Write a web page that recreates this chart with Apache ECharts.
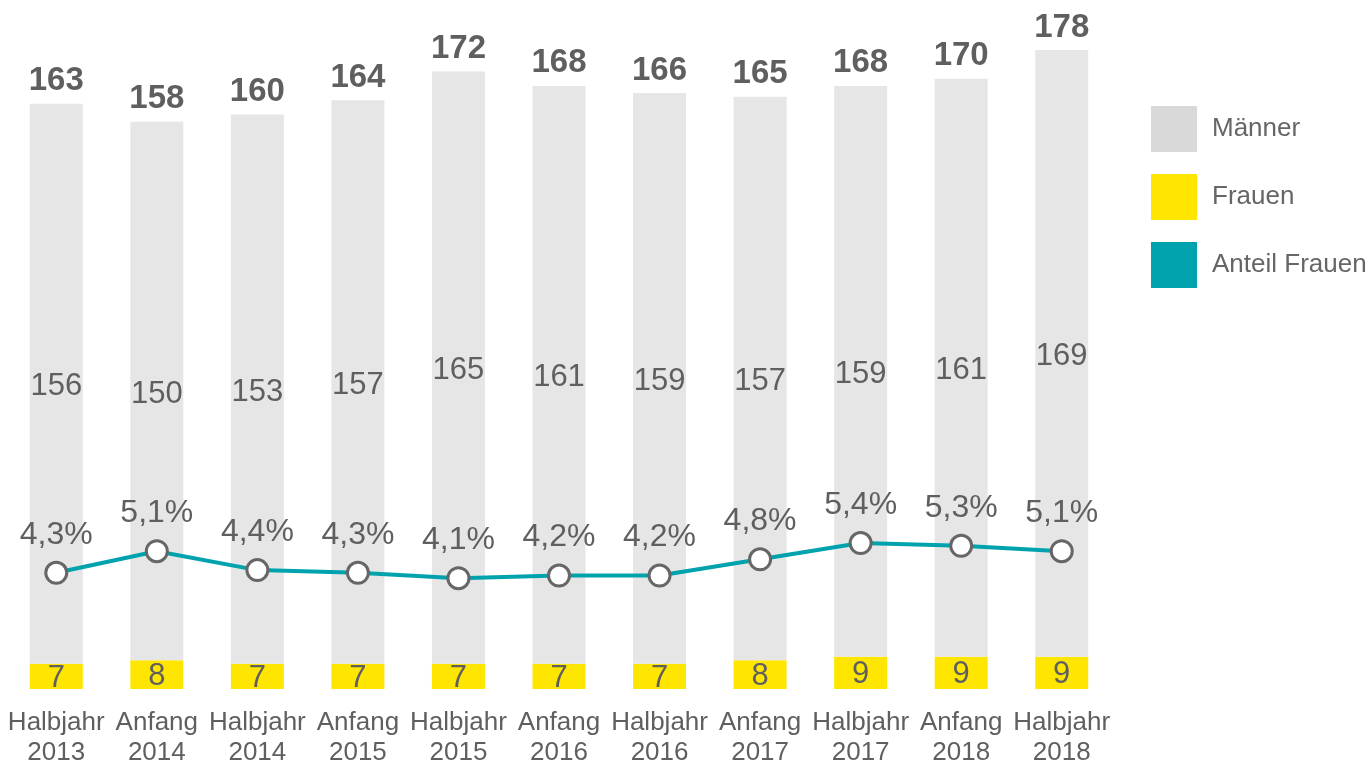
<!DOCTYPE html>
<html style="height: 100%">
<head>
    <meta charset="utf-8">
</head>
<body style="height: 100%; margin: 0; background: #fff">
<div id="container" style="width: 1368px; height: 763px"></div>
<script type="text/javascript" src="https://cdn.jsdelivr.net/npm/echarts@6/dist/echarts.min.js"></script>
<script type="text/javascript">
var categories = ['Halbjahr\n2013', 'Anfang\n2014', 'Halbjahr\n2014', 'Anfang\n2015', 'Halbjahr\n2015',
    'Anfang\n2016', 'Halbjahr\n2016', 'Anfang\n2017', 'Halbjahr\n2017', 'Anfang\n2018', 'Halbjahr\n2018'];
var maenner = [156, 150, 153, 157, 165, 161, 159, 157, 159, 161, 169];
var frauen = [7, 8, 7, 7, 7, 7, 7, 8, 9, 9, 9];
var gesamt = [163, 158, 160, 164, 172, 168, 166, 165, 168, 170, 178];
var anteil = [4.3, 5.1, 4.4, 4.3, 4.1, 4.2, 4.2, 4.8, 5.4, 5.3, 5.1];

var textColor = '#5f5f5f';
var font = '"Liberation Sans", Arial, sans-serif';

var myChart = echarts.init(document.getElementById('container'));

myChart.setOption({
    animation: false,
    textStyle: { fontFamily: font },
    grid: { left: 6, right: 256, top: 50, bottom: 74, containLabel: false, outerBoundsMode: 'none' },
    legend: {
        data: [
            { name: 'Männer', itemStyle: { color: '#D9D9D9' } },
            { name: 'Frauen', itemStyle: { color: '#FFE600' } },
            { name: 'Anteil Frauen', itemStyle: { color: '#00A3AD', borderWidth: 0 } }
        ],
        orient: 'vertical',
        left: 1146,
        top: 101,
        itemWidth: 46,
        itemHeight: 46,
        itemGap: 22,
        icon: 'rect',
        textStyle: { fontSize: 26, color: '#666', padding: [3, 0, 0, 10], fontFamily: font }
    },
    xAxis: {
        type: 'category',
        data: categories,
        axisLine: { show: false },
        axisTick: { show: false },
        axisLabel: { fontSize: 26, lineHeight: 30, color: textColor, margin: 19, interval: 0, fontFamily: font }
    },
    yAxis: [
        { type: 'value', min: 0, max: 178, show: false },
        { type: 'value', min: 0, max: 23.65, show: false }
    ],
    series: [
        {
            name: 'Frauen',
            type: 'bar',
            stack: 'a',
            barWidth: 53,
            data: frauen,
            itemStyle: { color: '#FFE600' },
            label: { show: true, position: 'inside', offset: [0, 2], fontSize: 31, color: textColor, fontFamily: font }
        },
        {
            name: 'Männer',
            type: 'bar',
            stack: 'a',
            barWidth: 53,
            data: maenner,
            itemStyle: { color: '#E6E6E6' },
            label: { show: true, position: 'inside', offset: [0, 3], fontSize: 31, color: textColor, fontFamily: font }
        },
        {
            name: 'Gesamt',
            type: 'bar',
            barWidth: 53,
            barGap: '-100%',
            data: gesamt,
            z: 1,
            silent: true,
            itemStyle: { color: 'rgba(0,0,0,0)' },
            label: { show: true, position: 'top', distance: 6, fontSize: 33, fontWeight: 'bold', color: textColor, fontFamily: font }
        },
        {
            name: 'Anteil Frauen',
            type: 'line',
            yAxisIndex: 1,
            data: anteil,
            z: 5,
            symbol: 'circle',
            symbolSize: 21,
            lineStyle: { color: '#00A3AD', width: 4 },
            itemStyle: { color: '#fff', borderColor: '#666', borderWidth: 3 },
            label: {
                show: true, position: 'top', distance: 10, fontSize: 32, color: textColor, fontFamily: font,
                formatter: function (p) { return p.value.toFixed(1).replace('.', ',') + '%'; }
            }
        }
    ]
});
</script>
</body>
</html>
